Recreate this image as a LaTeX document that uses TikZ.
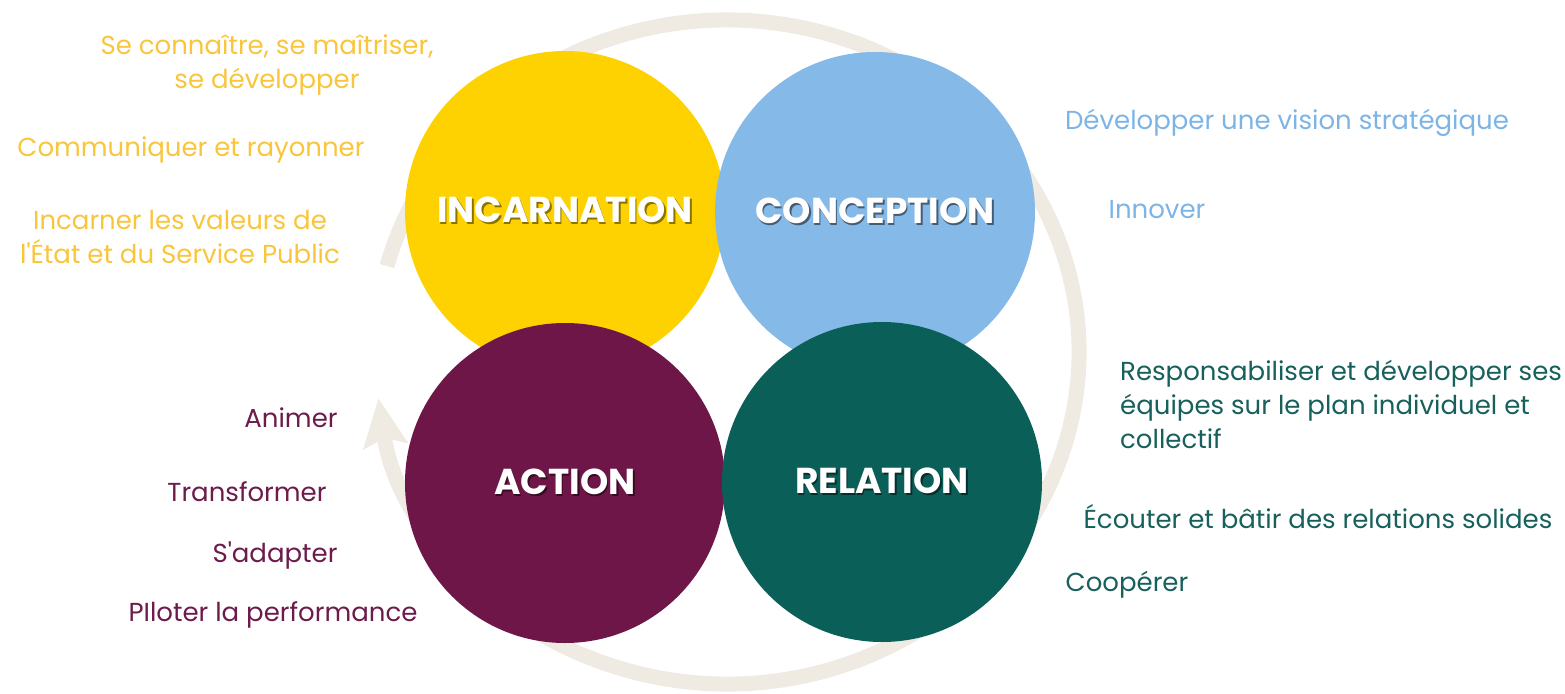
\documentclass[tikz,border=0pt]{standalone}
\usepackage{fontspec}
\setmainfont{Poppins}
\usepackage{tikz}
\usetikzlibrary{positioning,arrows.meta}

\definecolor{incfill}{HTML}{FDD200}
\definecolor{confill}{HTML}{85B9E8}
\definecolor{actfill}{HTML}{6F1649}
\definecolor{relfill}{HTML}{0B5F59}
\definecolor{inctext}{HTML}{F9C53B}
\definecolor{context}{HTML}{7DB4E6}
\definecolor{acttext}{HTML}{6C1B4B}
\definecolor{reltext}{HTML}{17605B}
\definecolor{ringcol}{HTML}{EFEBE3}

\newcommand{\lblshadow}[2]{\makebox[0pt][l]{\hspace{1.6pt}\raisebox{-1.6pt}{\color{#1}#2}}#2}

\tikzset{
  bubble/.style={circle, minimum size=320pt, inner sep=0pt, fill=#1, text=white,
    font=\fontsize{36}{40}\selectfont\bfseries},
  item/.style={font=\fontsize{26}{34}\selectfont, text=#1, inner sep=0pt},
  ring/.style={draw=ringcol, line width=15pt,
    -{Stealth[length=48pt, width=44pt, inset=8pt]}},
}

\begin{document}
\begin{tikzpicture}[x=1pt, y=-1pt]
		\useasboundingbox (0,0) rectangle (1565,693);
		% cycle behind the four circles
		\coordinate (ctr) at (727,352);
		\draw[ring] (ctr) ++(195:352 and 332) arc[start angle=195, end angle=532, x radius=352, y radius=332];
		% the four circles
		\node[bubble=incfill] (inc) at (565,211) {\lblshadow{incfill!55!black}{INCARNATION}};
		\node[bubble=confill] (con) at (875,212) {\lblshadow{confill!50!black}{CONCEPTION}};
		\node[bubble=actfill] (act) at (565,483) {\lblshadow{actfill!50!black}{ACTION}};
		\node[bubble=relfill] (rel) at (882,482) {\lblshadow{relfill!50!black}{RELATION}};
		% incarnation
		\node[item=inctext, align=center] (inc1) at (267,65) {Se connaître, se maîtriser,\\se développer};
		\node[item=inctext] (inc2) at (191,150) {Communiquer et rayonner};
		\node[item=inctext, align=center] (inc3) at (180,237) {Incarner les valeurs de\\l\textquotesingle État et du Service Public};
		% conception
		\node[item=context] (con1) at (1287,123) {Développer une vision stratégique};
		\node[item=context] (con2) at (1157,210) {Innover};
		% action
		\node[item=acttext] (act1) at (291,418) {Animer};
		\node[item=acttext] (act2) at (247,492) {Transformer};
		\node[item=acttext] (act3) at (275,556) {S\textquotesingle adapter};
		\node[item=acttext] (act4) at (273,615) {PIloter la performance};
		% relation
		\node[item=reltext, align=left, anchor=west] (rel1) at (1120,404) {Responsabiliser et développer ses\\équipes sur le plan individuel et\\collectif};
		\node[item=reltext] (rel2) at (1318,517) {Écouter et bâtir des relations solides};
		\node[item=reltext] (rel3) at (1127,585) {Coopérer};
	\end{tikzpicture}
\end{document}
